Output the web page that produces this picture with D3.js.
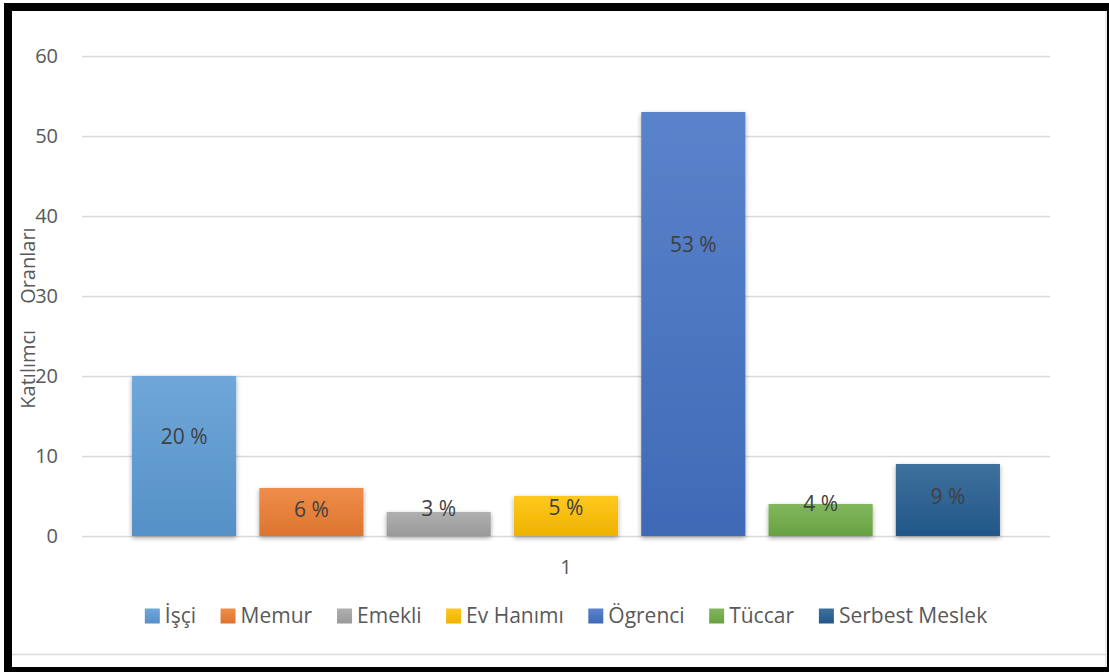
<!DOCTYPE html>
<html>
<head>
<meta charset="utf-8">
<script src="https://cdn.jsdelivr.net/npm/d3@7"></script>
<style>
  html, body { margin: 0; padding: 0; background: #fff; }
  svg { display: block; font-family: "Open Sans", "Noto Sans", sans-serif; }
</style>
</head>
<body>
<div id="main"></div>
<script>
const categories = ['İşçi', 'Memur', 'Emekli', 'Ev Hanımı', 'Ögrenci', 'Tüccar', 'Serbest Meslek'];
const values = [20, 6, 3, 5, 53, 4, 9];
const labels = ['20 %', '6 %', '3 %', '5 %', '53 %', '4 %', '9 %'];
// where each label sits, in axis units (labels were hand placed in the original)
const labelAt = [12.4, 3.25, 3.4, 3.6, 36.4, 4.1, 4.9];
const yTicks = [0, 10, 20, 30, 40, 50, 60];
const xLabel = '1';
const colors = ['#5B9BD5', '#ED7D31', '#A5A5A5', '#FFC000', '#4472C4', '#70AD47', '#255E91'];

const width = 1109, height = 672;
const plotLeft = 82, plotRight = 1050, plotTop = 56, plotBottom = 536;

const svg = d3.select('#main').append('svg').attr('width', width).attr('height', height);
const defs = svg.append('defs');

// soft shadow like excel
const f = defs.append('filter').attr('id', 'shadow').attr('x', '-20%').attr('y', '-20%').attr('width', '140%').attr('height', '140%');
f.append('feGaussianBlur').attr('in', 'SourceAlpha').attr('stdDeviation', 2.5);
f.append('feOffset').attr('dx', 0).attr('dy', 2).attr('result', 'b');
f.append('feComponentTransfer').append('feFuncA').attr('type', 'linear').attr('slope', 0.35);
const m = f.append('feMerge');
m.append('feMergeNode');
m.append('feMergeNode').attr('in', 'SourceGraphic');

colors.forEach((c, i) => {
  const g = defs.append('linearGradient').attr('id', 'g' + i).attr('x1', 0).attr('y1', 0).attr('x2', 0).attr('y2', 1);
  g.append('stop').attr('offset', '0%').attr('stop-color', d3.interpolateRgb(c, '#fff')(0.12));
  g.append('stop').attr('offset', '100%').attr('stop-color', d3.interpolateRgb(c, '#000')(0.07));
});

const y = d3.scaleLinear().domain([0, 60]).range([plotBottom, plotTop]);
const x = d3.scaleBand().domain(categories).range([plotLeft, plotRight]).paddingInner(0.182).paddingOuter(0.393);

// frame
svg.append('rect').attr('x', 0).attr('y', 0).attr('width', width).attr('height', height).attr('fill', '#fff');
svg.append('line').attr('x1', 12).attr('x2', 1106).attr('y1', 654.5).attr('y2', 654.5).attr('stroke', '#d9d9d9').attr('stroke-width', 1.5);
svg.append('line').attr('x1', 1106).attr('x2', 1106).attr('y1', 11).attr('y2', 668).attr('stroke', '#d9d9d9').attr('stroke-width', 1);
svg.append('rect').attr('x', 4).attr('y', 3).attr('width', 1104).attr('height', 8).attr('fill', '#000');
svg.append('rect').attr('x', 4).attr('y', 3).attr('width', 8).attr('height', 669).attr('fill', '#000');
svg.append('rect').attr('x', 1107).attr('y', 3).attr('width', 2).attr('height', 669).attr('fill', '#000');
svg.append('rect').attr('x', 4).attr('y', 667).attr('width', 1105).attr('height', 5).attr('fill', '#000');

// grid + y axis
const yAxis = d3.axisLeft(y).tickValues(yTicks).tickSize(-(plotRight - plotLeft)).tickPadding(24);
const ga = svg.append('g').attr('transform', `translate(${plotLeft},0)`).call(yAxis);
ga.select('.domain').remove();
ga.selectAll('line').attr('stroke', '#d9d9d9').attr('stroke-width', 1.5);
ga.selectAll('text').attr('fill', '#595959').attr('font-size', 20).attr('font-family', '"Open Sans", sans-serif');

// bars
svg.append('g').selectAll('rect').data(values).join('rect')
  .attr('x', (d, i) => x(categories[i]))
  .attr('width', x.bandwidth())
  .attr('y', d => y(d))
  .attr('height', d => y(0) - y(d))
  .attr('fill', (d, i) => `url(#g${i})`)
  .attr('filter', 'url(#shadow)');

svg.append('g').selectAll('text').data(labels).join('text')
  .attr('x', (d, i) => x(categories[i]) + x.bandwidth() / 2)
  .attr('y', (d, i) => y(labelAt[i]))
  .attr('dy', '0.35em')
  .attr('text-anchor', 'middle')
  .attr('fill', '#404040')
  .attr('font-size', 21)
  .text(d => d);

// category label
svg.append('text').attr('x', (plotLeft + plotRight) / 2).attr('y', 567).attr('dy', '0.35em')
  .attr('text-anchor', 'middle').attr('fill', '#595959').attr('font-size', 20).text(xLabel);

// y title
svg.append('text').attr('transform', 'translate(28,318) rotate(-90)').attr('dy', '0.35em')
  .attr('text-anchor', 'middle').attr('fill', '#595959').attr('font-size', 20)
  .attr('xml:space', 'preserve').style('white-space', 'pre')
  .text('Katılımcı     Oranları');

// legend
const gap = 24.5;
const lg = svg.append('g');
const items = lg.selectAll('g').data(categories).join('g');
items.append('rect').attr('width', 15).attr('height', 15).attr('y', -7.5)
  .attr('fill', (d, i) => `url(#g${i})`);
items.append('text').attr('x', 20).attr('dy', '0.35em').attr('fill', '#595959').attr('font-size', 21).text(d => d);
let pos = 0;
items.each(function () {
  d3.select(this).attr('transform', `translate(${pos},0)`);
  pos += this.getBBox().width + gap;
});
pos -= gap;
lg.attr('transform', `translate(${(plotLeft + plotRight) / 2 - pos / 2},616)`);
</script>
</body>
</html>
